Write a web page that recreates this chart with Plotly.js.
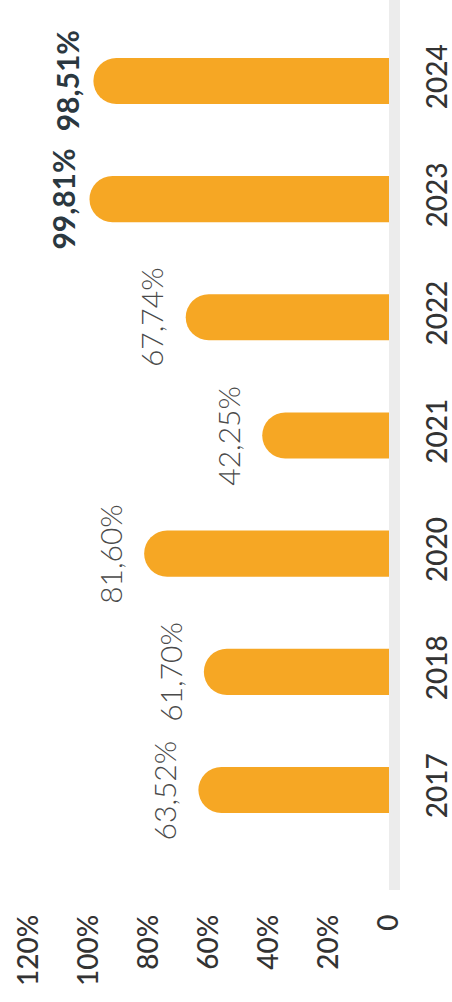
<!DOCTYPE html>
<html>
<head>
<meta charset="utf-8">
<script src="https://cdn.plot.ly/plotly-3.0.1.min.js"></script>
<style>
  html, body { margin: 0; padding: 0; background: #ffffff; }
  #chart { width: 452px; height: 1002px; }
</style>
</head>
<body>
<div id="chart"></div>
<script>
// Data
const years = ['2017', '2018', '2020', '2021', '2022', '2023', '2024'];
const values = [63.52, 61.70, 81.60, 42.25, 67.74, 99.81, 98.51];
const highlighted = [false, false, false, false, false, true, true];
const tickValues = [0, 20, 40, 60, 80, 100, 120];
const tickLabels = ['0', '20%', '40%', '60%', '80%', '100%', '120%'];

const fmt = v => v.toFixed(2).replace('.', ',') + '%';

const barColor = '#F6A724';
const fontFamily = 'Lato, "Open Sans", sans-serif';

const trace = {
  type: 'bar',
  orientation: 'h',
  x: values,
  y: years,
  marker: { color: barColor, cornerradius: 23 },
  hoverinfo: 'none'
};

// category index positions for annotations (numeric-looking names would be read as numbers)
const annotations = years.map((yr, i) => ({
  x: values[i],
  y: i,
  xref: 'x',
  yref: 'y',
  text: fmt(values[i]),
  textangle: -90,
  showarrow: false,
  xanchor: 'right',
  yanchor: 'middle',
  xshift: highlighted[i] ? -6 : -14,
  font: {
    family: fontFamily,
    size: 30,
    color: highlighted[i] ? '#2B3840' : '#4A4A4A',
    weight: highlighted[i] ? 700 : 300
  }
}));

const layout = {
  width: 452,
  height: 1002,
  margin: { l: 10, r: 63, t: 0, b: 112 },
  paper_bgcolor: '#ffffff',
  plot_bgcolor: '#ffffff',
  showlegend: false,
  bargap: 0.61,
  xaxis: {
    range: [126.3, 0],
    tickvals: tickValues,
    ticktext: tickLabels,
    tickangle: -90,
    ticks: '',
    ticklabelstandoff: 18,
    showgrid: false,
    zeroline: false,
    showline: false,
    tickfont: { family: fontFamily, size: 28, color: '#333333', weight: 500 }
  },
  yaxis: {
    type: 'category',
    categoryorder: 'array',
    categoryarray: years,
    range: [-0.846, 6.685],
    side: 'right',
    tickangle: -90,
    ticks: '',
    ticklabelstandoff: 13,
    showgrid: false,
    zeroline: false,
    showline: true,
    linewidth: 11,
    linecolor: '#ECECEC',
    tickfont: { family: fontFamily, size: 28, color: '#333333', weight: 500 }
  },
  annotations: annotations
};

Plotly.newPlot('chart', [trace], layout, { displayModeBar: false, staticPlot: true });
</script>
</body>
</html>
